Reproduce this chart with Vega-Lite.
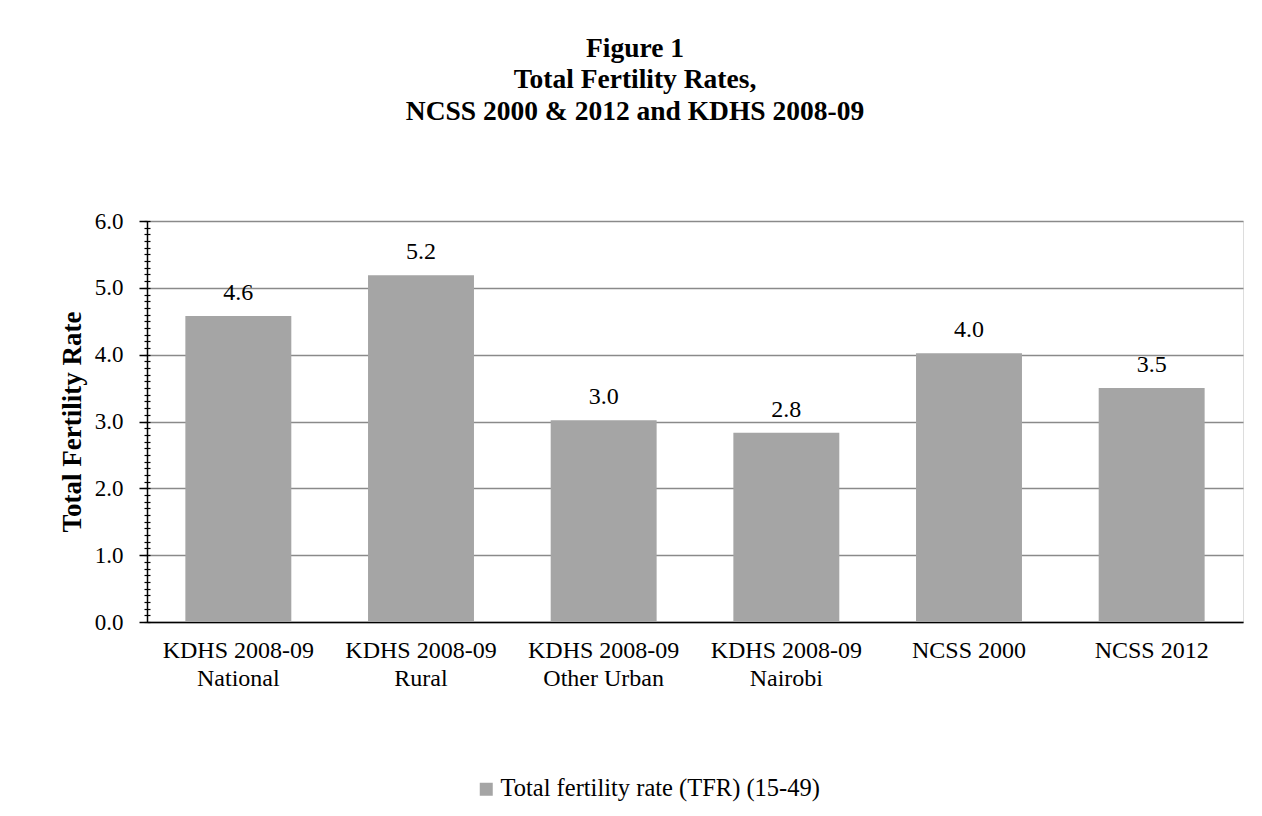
{
  "$schema": "https://vega.github.io/schema/vega-lite/v6.json",
  "width": 1096,
  "height": 401,
  "autosize": {"type": "none"},
  "padding": {"left": 147, "top": 221, "right": 19, "bottom": 194},
  "background": "white",
  "config": {
    "font": "Liberation Serif",
    "style": {"lbl": {"font": "Liberation Serif", "fontSize": 24}}
  },
  "title": {
    "text": ["Figure 1", "Total Fertility Rates,", "NCSS 2000 & 2012 and KDHS 2008-09"],
    "font": "Liberation Serif",
    "fontSize": 27.5,
    "fontWeight": "bold",
    "color": "black",
    "lineHeight": 31.5,
    "anchor": "middle",
    "frame": "group",
    "dx": -60,
    "offset": 85
  },
  "data": {
    "values": [
      {"cat": "KDHS 2008-09|National", "tfr": 4.58},
      {"cat": "KDHS 2008-09|Rural", "tfr": 5.19},
      {"cat": "KDHS 2008-09|Other Urban", "tfr": 3.02},
      {"cat": "KDHS 2008-09|Nairobi", "tfr": 2.83},
      {"cat": "NCSS 2000", "tfr": 4.02},
      {"cat": "NCSS 2012", "tfr": 3.5}
    ]
  },
  "encoding": {
    "x": {
      "field": "cat",
      "type": "nominal",
      "sort": null,
      "scale": {"paddingInner": 0.42, "paddingOuter": 0.21},
      "axis": {
        "title": null,
        "labelAngle": 0,
        "labelExpr": "split(datum.label, '|')",
        "ticks": false,
        "domainColor": "black",
        "domainWidth": 1.5,
        "labelFont": "Liberation Serif",
        "labelFontSize": 24,
        "labelColor": "black",
        "labelLineHeight": 28,
        "labelPadding": 16,
        "labelLimit": 400
      }
    }
  },
  "layer": [
    {
      "mark": {"type": "bar"},
      "encoding": {
        "y": {
          "field": "tfr",
          "type": "quantitative",
          "scale": {"domain": [0, 6], "nice": false},
          "axis": {
            "values": [0, 1, 2, 3, 4, 5, 6],
            "format": ".1f",
            "grid": true,
            "gridColor": "#8a8a8a",
            "gridWidth": 1.3,
            "domainColor": "black",
            "domainWidth": 1.5,
            "tickColor": "black",
            "tickSize": 8,
            "tickWidth": 1.5,
            "labelFont": "Liberation Serif",
            "labelFontSize": 23,
            "labelColor": "black",
            "labelPadding": 16,
            "title": "Total Fertility Rate",
            "titleFont": "Liberation Serif",
            "titleFontSize": 27,
            "titleFontWeight": "bold",
            "titleColor": "black",
            "titlePadding": 8
          }
        },
        "color": {
          "datum": "Total fertility rate (TFR) (15-49)",
          "scale": {"range": ["#A5A5A5"]},
          "legend": {
            "title": null,
            "orient": "none",
            "legendX": 327,
            "legendY": 556,
            "symbolType": "square",
            "symbolSize": 169,
            "symbolStrokeWidth": 0,
            "labelFont": "Liberation Serif",
            "labelFontSize": 24.5,
            "labelColor": "black",
            "labelOffset": 2,
            "labelLimit": 600
          }
        }
      }
    },
    {
      "mark": {"type": "text", "style": "lbl", "dy": -16, "baseline": "alphabetic", "font": "Liberation Serif", "fontSize": 24, "fontStyle": "normal", "fontWeight": "normal", "color": "black"},
      "encoding": {
        "y": {
          "field": "tfr",
          "type": "quantitative",
          "axis": {
            "orient": "left",
            "tickCount": 60,
            "labels": false,
            "domain": false,
            "grid": false,
            "offset": -3,
            "tickSize": 6,
            "tickColor": "black",
            "tickWidth": 1.2,
            "title": null
          }
        },
        "text": {"field": "tfr", "type": "quantitative", "format": ".1f"}
      }
    }
  ],
  "resolve": {"axis": {"y": "independent"}}
}
